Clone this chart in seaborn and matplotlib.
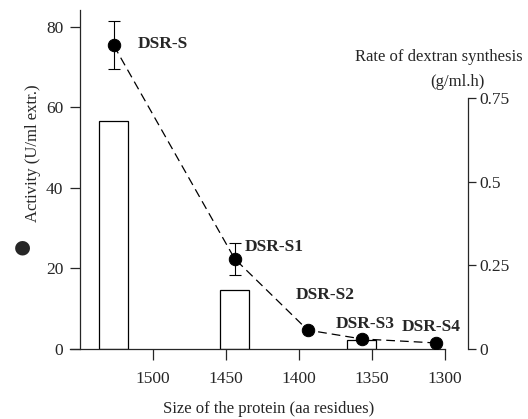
import matplotlib
matplotlib.use("Agg")
import matplotlib.pyplot as plt
import seaborn as sns
import pandas as pd

forms = ["DSR-S", "DSR-S1", "DSR-S2", "DSR-S3", "DSR-S4"]
size_aa = [1527, 1444, 1394, 1357, 1306]
activity = [75.5, 22.4, 4.7, 2.5, 1.5]
activity_err = [6.0, 4.0, 0, 0, 0]

bar_sizes = [1527, 1444, 1357]
rate = [0.681, 0.176, 0.027]

df = pd.DataFrame({"form": forms, "size": size_aa, "activity": activity, "err": activity_err})
df_rate = pd.DataFrame({"size": bar_sizes, "rate": rate})

sns.set_style("ticks")
plt.rcParams["font.family"] = ["Liberation Serif", "DejaVu Serif"]

fig = plt.figure(figsize=(5.28, 4.19), dpi=100)
W, H = 528, 419
ax = fig.add_axes([70 / W, 1 - 349 / H, (468 - 70) / W, (349 - 10) / H])
ax2 = ax.twinx()

# bars go on the rate axis, drawn behind the activity points
ax2.bar(df_rate["size"], df_rate["rate"], width=20, color="white",
        edgecolor="black", linewidth=0.9)
ax2.set_zorder(ax.get_zorder() - 1)
ax.patch.set_visible(False)

sns.lineplot(data=df, x="size", y="activity", ax=ax, color="black",
             linestyle=(0, (7, 4)), linewidth=0.9)
ax.errorbar(df["size"][:2], df["activity"][:2], yerr=df["err"][:2], fmt="none",
            ecolor="black", elinewidth=0.8, capsize=4, capthick=0.8)
sns.scatterplot(data=df, x="size", y="activity", ax=ax, color="black",
                s=80, edgecolor="black", zorder=5)

xl = (1556.8, 1284.2)
ax.set_xlim(*xl)
ax.set_ylim(0, 84.2)
ax2.set_ylim(0, 1.013)

ax.set_xticks([1500, 1450, 1400, 1350, 1300])
ax.set_yticks([0, 20, 40, 60, 80])
ax2.set_yticks([0, 0.25, 0.5, 0.75])
ax2.set_yticklabels(["0", "0.25", "0.5", "0.75"])

for s in ["top", "right"]:
    ax.spines[s].set_visible(False)
for s in ["top", "left", "bottom"]:
    ax2.spines[s].set_visible(False)
ax.spines["left"].set_position(("data", 1550))
ax.spines["bottom"].set_bounds(xl[0], 1300)
ax2.spines["right"].set_bounds(0, 0.75)
for a in (ax, ax2):
    for sp in a.spines.values():
        sp.set_linewidth(0.9)

ax.tick_params(axis="y", direction="out", length=7, width=0.9, labelsize=12.5, pad=5)
ax.tick_params(axis="x", direction="out", length=8, width=0.9, labelsize=12.5, pad=8)
ax2.tick_params(axis="y", direction="out", length=6, width=0.9, labelsize=12.5, pad=2)

ax.set_xlabel("Size of the protein (aa residues)", fontsize=12, labelpad=10)
ax.set_ylabel("")
ax2.set_ylabel("")
fig.text(33 / W, 1 - 153 / H, "Activity (U/ml extr.)", fontsize=12, rotation=90,
         ha="center", va="center")
fig.text(22 / W, 1 - 247 / H, "\u25CF", fontsize=14, ha="center", va="center",
         family=["DejaVu Sans"])
fig.text(439 / W, 1 - 57 / H, "Rate of dextran synthesis", fontsize=12,
         ha="center", va="center")
fig.text(457 / W, 1 - 82 / H, "(g/ml.h)", fontsize=12, ha="center", va="center")

# labels next to each point
label_pos = {"DSR-S": (138, 44), "DSR-S1": (245, 247), "DSR-S2": (296, 295),
             "DSR-S3": (336, 324), "DSR-S4": (402, 327)}
for name, (px, py) in label_pos.items():
    fig.text(px / W, 1 - py / H, name, fontsize=12.5, fontweight="bold",
             ha="left", va="center")

fig.savefig("out.png", dpi=100)
